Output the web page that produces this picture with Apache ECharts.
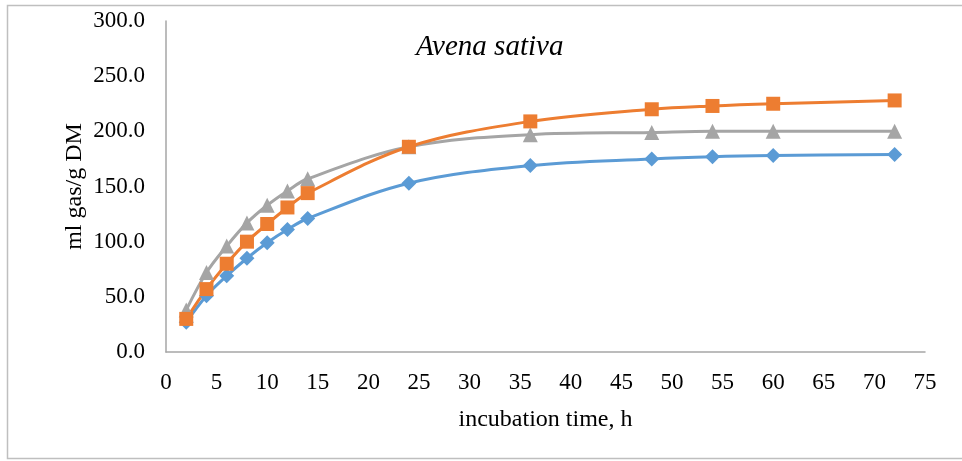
<!DOCTYPE html>
<html><head><meta charset="utf-8">
<script src="https://cdn.jsdelivr.net/npm/echarts@6/dist/echarts.min.js"></script>
<style>html,body{margin:0;padding:0;background:#fff}#c{width:962px;height:461px}</style>
</head><body><div id="c"></div>
<script>
const hours = [2, 4, 6, 8, 10, 12, 14, 24, 36, 48, 54, 60, 72];
const seriesBlue = [27, 51, 69, 85, 99, 111, 121, 153, 169, 175, 177, 178, 179];
const seriesOrange = [30, 57, 80, 100, 116, 131, 144, 186, 209, 220, 223, 225, 228];
const seriesGray = [38, 72, 96, 117, 133, 146, 157, 186, 197, 199, 200, 200, 200];
const chartTitle = 'Avena sativa';
const xTitle = 'incubation time, h';
const yTitle = 'ml gas/g DM';

const font = 'Liberation Serif, Times New Roman, serif';
const pair = arr => hours.map((h, i) => [h, arr[i]]);
const mk = (data, color, symbol, size) => ({
  type: 'line', data: pair(data), smooth: 0.35, symbol, symbolSize: size,
  lineStyle: { color, width: 3 }, itemStyle: { color }, z: 3
});
const chart = echarts.init(document.getElementById('c'));
chart.setOption({
  animation: false,
  title: { text: chartTitle, left: 411, top: 28,
    textStyle: { fontFamily: font, fontStyle: 'italic', fontWeight: 'normal', fontSize: 29, color: '#000' } },
  graphic: [{ type: 'rect', shape: { x: 7.5, y: 5.5, width: 970, height: 453 },
    style: { fill: 'none', stroke: '#BFBFBF', lineWidth: 1.5 }, silent: true }],
  grid: { left: 166, right: 37, top: 21, bottom: 109 },
  xAxis: {
    type: 'value', min: 0, max: 75, interval: 5,
    name: xTitle, nameLocation: 'middle', nameGap: 56,
    nameTextStyle: { fontFamily: font, fontSize: 24, color: '#000' },
    axisLine: { show: true, lineStyle: { color: '#A6A6A6', width: 1.5 } },
    axisTick: { show: false }, splitLine: { show: false },
    axisLabel: { fontFamily: font, fontSize: 23, color: '#000', margin: 19 }
  },
  yAxis: {
    type: 'value', min: 0, max: 300, interval: 50,
    name: yTitle, nameLocation: 'middle', nameGap: 79, nameMoveOverlap: false,
    nameTextStyle: { fontFamily: font, fontSize: 24, color: '#000' },
    axisLine: { show: true, lineStyle: { color: '#A6A6A6', width: 1.5 } },
    axisTick: { show: false }, splitLine: { show: false },
    axisLabel: { fontFamily: font, fontSize: 23, color: '#000', margin: 21,
      formatter: v => v.toFixed(1) }
  },
  series: [
    mk(seriesBlue, '#5B9BD5', 'diamond', 15),
    mk(seriesGray, '#A5A5A5', 'triangle', 15),
    mk(seriesOrange, '#ED7D31', 'rect', 14)
  ]
});
</script></body></html>
